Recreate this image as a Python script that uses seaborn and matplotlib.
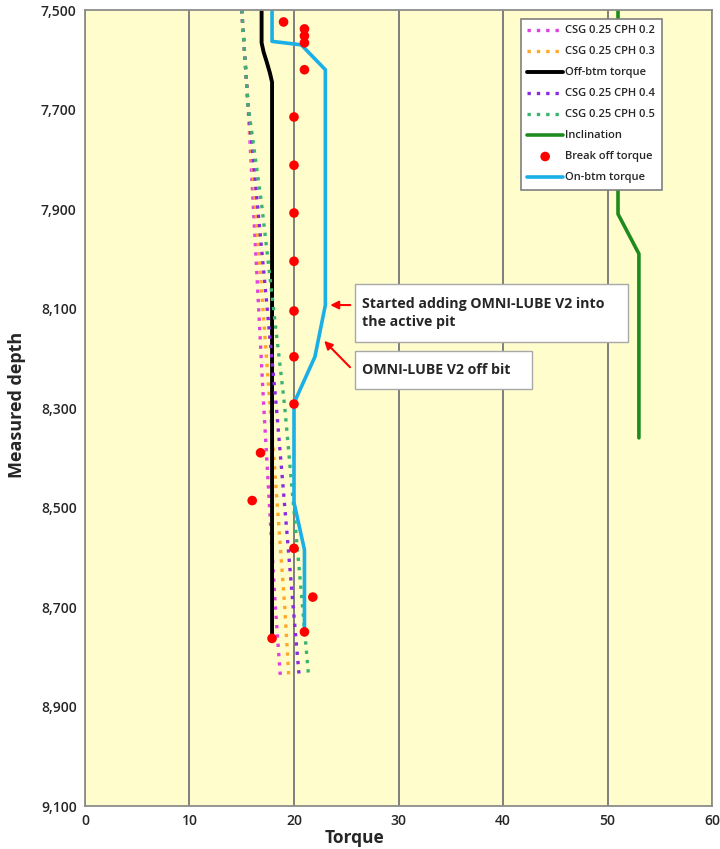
import matplotlib
matplotlib.use("Agg")
import matplotlib.pyplot as plt
import matplotlib.patches as mpatches
import seaborn as sns
from matplotlib.ticker import FuncFormatter

# dotted model curves (torque vs measured depth)
csg_depth = [7500, 7690, 7890, 8295, 8695, 8840]
cph_02 = [15.0, 15.6, 16.1, 17.1, 18.2, 18.7]
cph_03 = [15.0, 15.6, 16.3, 17.7, 19.1, 19.5]
cph_04 = [15.0, 15.6, 16.5, 18.3, 19.9, 20.5]
cph_05 = [15.0, 15.6, 16.9, 19.1, 20.8, 21.4]

off_depth = [7500, 7566, 7585, 7605, 7627, 7645, 8762]
off_torque = [16.9, 16.9, 17.1, 17.4, 17.7, 17.9, 17.9]

on_depth = [7500, 7563, 7570, 7620, 8093, 8197, 8290, 8490, 8585, 8755]
on_torque = [17.9, 17.9, 20.7, 23.0, 23.0, 22.0, 20.0, 20.0, 21.0, 21.0]

incl_depth = [7500, 7910, 7990, 8360]
incl_value = [51, 51, 53, 53]

brk_depth = [7524, 7538, 7552, 7566, 7620, 7715, 7812, 7908, 8005, 8105,
             8197, 8292, 8390, 8486, 8582, 8680, 8750, 8763]
brk_torque = [19.0, 21.0, 21.0, 21.0, 21.0, 20.0, 20.0, 20.0, 20.0, 20.0,
              20.0, 20.0, 16.8, 16.0, 20.0, 21.8, 21.0, 17.9]

depth_ticks = list(range(7500, 9101, 200))
torque_ticks = list(range(0, 61, 10))

sns.set_style("white")
plt.rcParams['font.family'] = ['Open Sans', 'DejaVu Sans']

fig = plt.figure(figsize=(7.2, 8.49), dpi=100)
ax = fig.add_axes([0.118, 0.0506, 0.871, 0.9376])
ax.set_facecolor('#FFFDCC')

dot = (0, (1, 1.8))
kw = dict(sort=False, estimator=None, ax=ax)
sns.lineplot(x=cph_02, y=csg_depth, color='#E040E0', lw=2.4, linestyle=dot, label='CSG 0.25 CPH 0.2', **kw)
sns.lineplot(x=cph_03, y=csg_depth, color='#FFA726', lw=2.4, linestyle=dot, label='CSG 0.25 CPH 0.3', **kw)
sns.lineplot(x=off_torque, y=off_depth, color='black', lw=2.8, label='Off-btm torque', **kw)
sns.lineplot(x=cph_04, y=csg_depth, color='#8A2BE2', lw=2.4, linestyle=dot, label='CSG 0.25 CPH 0.4', **kw)
sns.lineplot(x=cph_05, y=csg_depth, color='#3CB371', lw=2.4, linestyle=dot, label='CSG 0.25 CPH 0.5', **kw)
sns.lineplot(x=incl_value, y=incl_depth, color='#1E8B1E', lw=2.6, label='Inclination', **kw)
sns.scatterplot(x=brk_torque, y=brk_depth, color='red', s=48, edgecolor='none',
                label='Break off torque', ax=ax, zorder=5)
sns.lineplot(x=on_torque, y=on_depth, color='#1AAFE6', lw=2.6, label='On-btm torque', **kw)

ax.set_xlim(0, 60)
ax.set_ylim(9100, 7500)
ax.set_xticks(torque_ticks)
ax.set_yticks(depth_ticks)
ax.yaxis.set_major_formatter(FuncFormatter(lambda v, p: f'{int(v):,}'))
ax.grid(axis='x', color='#7F7F7F', lw=1.4)
ax.set_axisbelow(True)
for s in ax.spines.values():
    s.set_color('#8C8C8C')
    s.set_linewidth(1.3)
ax.tick_params(labelsize=10, length=0, pad=6)
for t in ax.get_xticklabels() + ax.get_yticklabels():
    t.set_fontweight('semibold')

ax.set_xlabel('Torque', fontsize=12.5, fontweight='bold')
ax.xaxis.set_label_coords(0.43, -0.029)
ax.set_ylabel('Measured depth', fontsize=13, fontweight='bold')
ax.yaxis.set_label_coords(-0.094, 0.504)

leg = ax.legend(loc='upper left', bbox_to_anchor=(0.686, 0.996), fontsize=8,
                frameon=True, fancybox=False, edgecolor='#808080', framealpha=1,
                handlelength=3.2, handletextpad=0.2, labelspacing=0.9,
                borderpad=0.6)
leg.get_frame().set_linewidth(1.2)
for t in leg.get_texts():
    t.set_fontweight('semibold')

# callout boxes
for (x0, x1, y0, y1) in [(25.84, 51.96, 8051, 8167), (25.84, 42.78, 8185, 8262)]:
    ax.add_patch(mpatches.Rectangle((x0, y0), x1 - x0, y1 - y0, fc='white',
                                    ec='#A8A8A8', lw=1, zorder=6))

arrow = dict(arrowstyle='-|>', color='red', lw=1.5, mutation_scale=12)
ax.annotate('', xy=(23.2, 8093), xytext=(25.65, 8093), arrowprops=arrow, zorder=7)
ax.annotate('', xy=(22.7, 8161), xytext=(25.55, 8222), arrowprops=arrow, zorder=7)
ax.text(26.5, 8109, 'Started adding OMNI-LUBE V2 into\nthe active pit', fontsize=10.2,
        fontweight='bold', va='center', ha='left', linespacing=1.45, zorder=8)
ax.text(26.5, 8224, 'OMNI-LUBE V2 off bit', fontsize=10.2, fontweight='bold',
        va='center', ha='left', zorder=8)

fig.savefig('out.png', dpi=100)
